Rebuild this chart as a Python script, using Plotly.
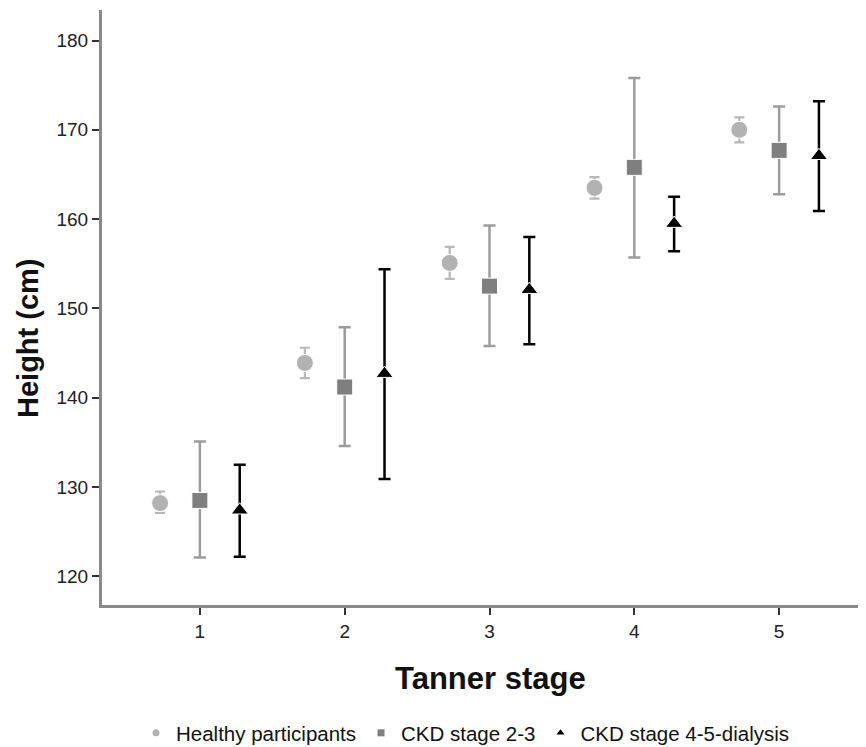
import plotly.graph_objects as go

stages = [1, 2, 3, 4, 5]
series_names = ["Healthy participants", "CKD stage 2-3", "CKD stage 4-5-dialysis"]

healthy_mean = [128.2, 143.9, 155.1, 163.5, 170.0]
healthy_upper = [129.5, 145.6, 156.9, 164.7, 171.4]
healthy_lower = [127.1, 142.2, 153.3, 162.3, 168.6]

ckd23_mean = [128.5, 141.2, 152.5, 165.8, 167.7]
ckd23_upper = [135.1, 147.9, 159.3, 175.8, 172.6]
ckd23_lower = [122.1, 134.6, 145.8, 155.7, 162.8]

ckd45_mean = [127.4, 142.7, 152.1, 159.5, 167.1]
ckd45_upper = [132.5, 154.4, 158.0, 162.5, 173.2]
ckd45_lower = [122.2, 130.9, 146.0, 156.4, 160.9]

y_ticks = [120, 130, 140, 150, 160, 170, 180]

FONT = "Arial, 'Liberation Sans', Helvetica, sans-serif"

# the page body has an 8px margin, so the figure is 8px smaller than the window
W, H = 858, 739
L, T, B = 94, 2, 142
PW, PH = W - L, H - T - B

styles = [
    dict(offset=-0.275, symbol="circle", size=17, color="#b2b2b2", ecolor="#b8b8b8", ethick=2.2, ewidth=5),
    dict(offset=0.0, symbol="square", size=16, color="#7f7f7f", ecolor="#9c9c9c", ethick=2.5, ewidth=6),
    dict(offset=0.275, symbol="triangle-up", size=15, color="#000000", ecolor="#000000", ethick=2.5, ewidth=6),
]
data = [
    (healthy_mean, healthy_upper, healthy_lower),
    (ckd23_mean, ckd23_upper, ckd23_lower),
    (ckd45_mean, ckd45_upper, ckd45_lower),
]

fig = go.Figure()
for name, st, (m, up, lo) in zip(series_names, styles, data):
    xs = [s + st["offset"] for s in stages]
    fig.add_trace(go.Scatter(
        x=xs, y=m, mode="markers", name=name, showlegend=False,
        marker=dict(symbol=st["symbol"], size=st["size"], color=st["color"],
                    line=dict(color="white", width=1)),
        error_y=dict(type="data", symmetric=False,
                     array=[u - v for u, v in zip(up, m)],
                     arrayminus=[v - l for v, l in zip(m, lo)],
                     color=st["ecolor"], thickness=st["ethick"], width=st["ewidth"]),
    ))
    fig.add_trace(go.Scatter(
        x=[None], y=[None], mode="markers", name=name, showlegend=True,
        marker=dict(symbol=st["symbol"], size=7, color=st["color"]),
    ))

fig.update_layout(
    width=W, height=H,
    margin=dict(l=L, r=0, t=T, b=B, autoexpand=False),
    paper_bgcolor="white", plot_bgcolor="white",
    font=dict(family=FONT, color="#222222"),
    showlegend=True,
    legend=dict(orientation="h", xref="container", yref="container",
                x=128 / W, xanchor="left", y=14 / H, yanchor="middle",
                font=dict(size=20.5, family=FONT, color="#111111"),
                itemsizing="trace", itemwidth=30, tracegroupgap=0),
    xaxis=dict(range=[0.324, 5.6], tickvals=stages, ticktext=[str(s) for s in stages],
               showgrid=False, zeroline=False,
               showline=True, linecolor="#8a8a8a", linewidth=3,
               ticks="outside", ticklen=7, tickwidth=1.5, tickcolor="#333333",
               tickfont=dict(size=19, family=FONT, color="#222222")),
    yaxis=dict(range=[116.79, 183.42], tickvals=y_ticks,
               showgrid=False, zeroline=False,
               showline=True, linecolor="#8a8a8a", linewidth=3,
               ticks="outside", ticklen=7, tickwidth=1.5, tickcolor="#333333",
               tickfont=dict(size=19, family=FONT, color="#222222")),
    annotations=[
        dict(text="<b>Tanner stage</b>", xref="paper", yref="paper",
             x=(490 - 102) / PW, y=-(678 - 605) / PH, xanchor="center", yanchor="middle",
             showarrow=False, font=dict(size=31, family=FONT, color="#111111")),
        dict(text="<b>Height (cm)</b>", xref="paper", yref="paper",
             x=-(102 - 28) / PW, y=(605 - 338) / PH, xanchor="center", yanchor="middle",
             textangle=-90, showarrow=False, font=dict(size=29, family=FONT, color="#111111")),
    ],
)

fig.write_html("out.html")
